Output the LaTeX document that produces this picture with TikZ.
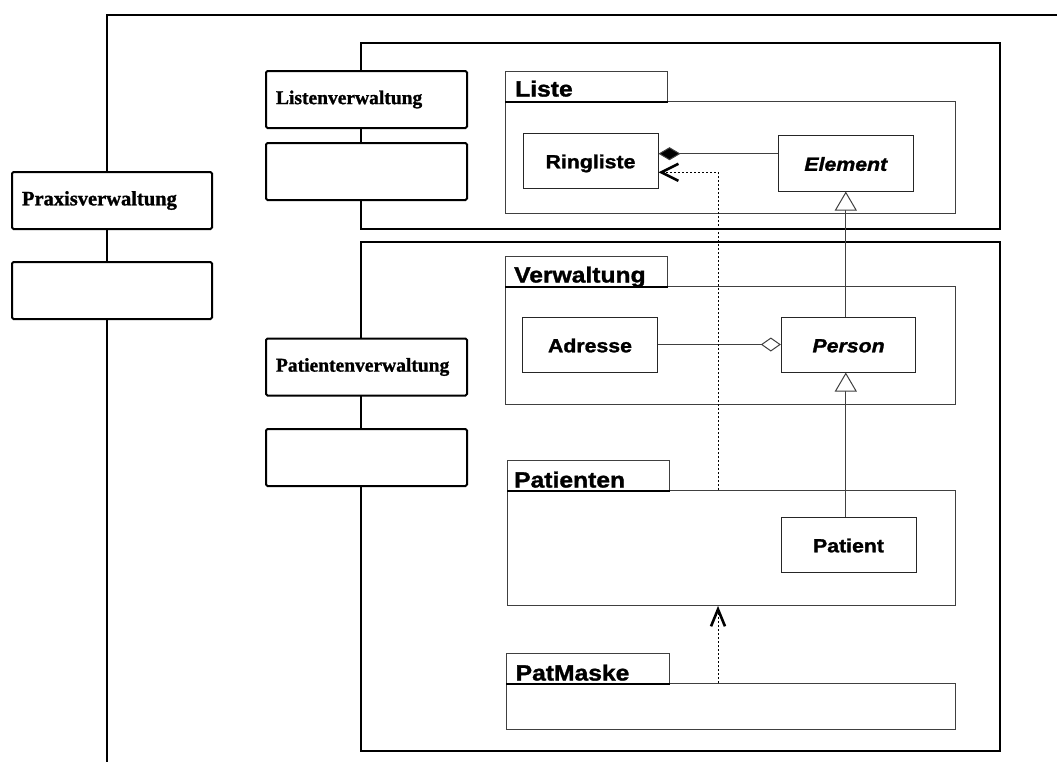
\documentclass[tikz,border=0pt]{standalone}
\usepackage{fontspec}
\setmainfont{Liberation Serif}[BoldFeatures={FakeBold=1.2}]
\newfontfamily\umlsans{Liberation Sans}[FakeStretch=1.12, BoldFeatures={FakeBold=1.4}, BoldItalicFeatures={FakeBold=1.4}]
\usetikzlibrary{arrows.meta}
\begin{document}
\begin{tikzpicture}[x=1pt,y=-1pt,
  frameline/.style={draw=black, line width=2pt},
  lanebox/.style={draw=black, line width=2pt, fill=white, rounded corners=1.5pt,
    minimum height=57pt, text width=181pt, inner xsep=10pt, inner ysep=0pt,
    align=left, font=\bfseries\fontsize{19.5}{22}\selectfont},
  pkgtab/.style={draw=black!75, line width=0.9pt, fill=white, minimum width=162pt,
    minimum height=30pt, inner sep=0pt, anchor=north west},
  pkgbody/.style={draw=black!75, line width=0.9pt, inner sep=0pt, anchor=north west},
  tabedge/.style={draw=black, line width=1.6pt},
  pkglabel/.style={anchor=base west, inner sep=0pt,
    font=\umlsans\bfseries\fontsize{22}{24}\selectfont},
  cls/.style={draw=black!85, line width=1pt, fill=white, minimum width=135pt,
    minimum height=55pt, inner sep=0pt, text height=15.6pt, text depth=0pt,
    font=\umlsans\bfseries\fontsize{19}{22}\selectfont},
  abstractcls/.style={cls, font=\umlsans\bfseries\itshape\fontsize{19}{22}\selectfont},
  assoc/.style={draw=black!75, line width=1pt},
  comp/.style={assoc, -{Diamond[length=22pt,width=13pt,fill=black]}},
  agg/.style={assoc, -{Diamond[open,length=20pt,width=14pt,fill=white]}},
  gen/.style={assoc, -{Triangle[open,length=19pt,width=22pt,fill=white,line width=1pt]}},
  dep/.style={draw=black, line width=0.9pt, dash pattern=on 2pt off 2pt,
    -{Straight Barb[length=17pt,width=#1,line width=2.6pt]}},
  dep/.default=16pt
]
\useasboundingbox (0,0) rectangle (1057,761);

% outer frame (Praxisverwaltung)
\coordinate (outerTR) at (1060,15);
\coordinate (outerTL) at (107,15);
\coordinate (outerBL) at (107,765);
\draw[frameline] (outerTR) -- (outerTL) -- (outerBL);

% package frames
\coordinate (listTL) at (361,43);
\coordinate (listBR) at (1000,229);
\draw[frameline] (listTL) rectangle (listBR);
\coordinate (patTL) at (361,242);
\coordinate (patBR) at (1000,751);
\draw[frameline] (patTL) rectangle (patBR);

% lane boxes
\node[lanebox, text width=180pt, font=\bfseries\fontsize{20.5}{23}\selectfont] (praxis) at (112,200.5) {Praxisverwaltung};
\node[lanebox, text width=180pt] (praxisE) at (112,290.5) {};
\node[lanebox] (listen) at (366.5,99.5) {Listenverwaltung};
\node[lanebox] (listenE) at (366.5,171.5) {};
\node[lanebox] (patv) at (366.5,367) {Patientenverwaltung};
\node[lanebox] (patvE) at (366.5,457.5) {};

% packages
\node[pkgbody, minimum width=450pt, minimum height=112pt] (listeBody) at (505,101) {};
\node[pkgtab] (listeTab) at (505,71) {};
\draw[tabedge] (listeTab.south west) -- (listeTab.south east);
\node[pkglabel] (listeLbl) at (515,96.5) {Liste};

\node[pkgbody, minimum width=450pt, minimum height=118pt] (verwBody) at (505,286) {};
\node[pkgtab] (verwTab) at (505,256) {};
\draw[tabedge] (verwTab.south west) -- (verwTab.south east);
\node[pkglabel] (verwLbl) at (514,282.5) {Verwaltung};

\node[pkgbody, minimum width=448pt, minimum height=115pt] (patBody) at (507,490) {};
\node[pkgtab] (patTab) at (507,460) {};
\draw[tabedge] (patTab.south west) -- (patTab.south east);
\node[pkglabel] (patLbl) at (514,487.5) {Patienten};

\node[pkgbody, minimum width=449pt, minimum height=46pt] (maskBody) at (506,683) {};
\node[pkgtab, minimum width=163pt] (maskTab) at (506,653) {};
\draw[tabedge] (maskTab.south west) -- (maskTab.south east);
\node[pkglabel] (maskLbl) at (515.5,680.5) {PatMaske};

% classes
\node[cls] (ringliste) at (590.5,160.5) {Ringliste};
\node[abstractcls, minimum width=134.5pt, minimum height=56pt] (element) at (845.8,163) {Element};
\node[cls] (adresse) at (590,344.5) {Adresse};
\node[abstractcls, minimum width=134.5pt] (person) at (848.6,344.5) {Person};
\node[cls] (patient) at (848.5,544.5) {Patient};

% relations
\draw[comp] (element.west |- 0,153.7) -- (ringliste.east |- 0,153.7);
\draw[agg] (adresse.east) -- (person.west);
\draw[gen] (person.north -| element.south) -- (element.south);
\draw[gen] (patient.north -| element.south) -- (person.south -| element.south);
\draw[dep=17pt] (patBody.north -| 718,0) |- (ringliste.east |- 0,172.3);
\draw[dep=14pt] (maskBody.north -| 718,0) -- (patBody.south -| 718,0);
\end{tikzpicture}
\end{document}
